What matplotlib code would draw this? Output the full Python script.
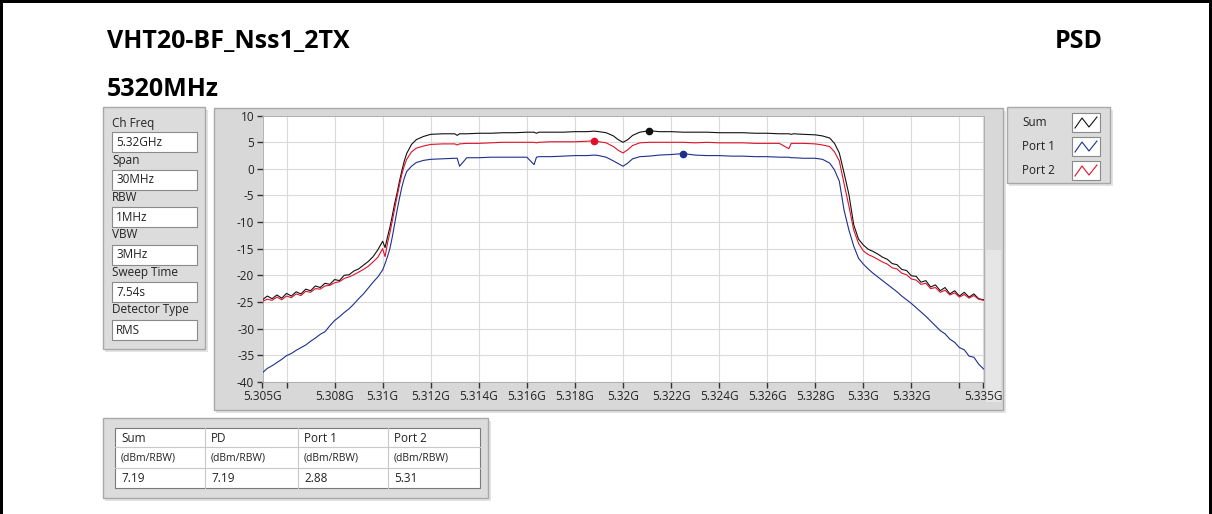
import numpy as np
import matplotlib.pyplot as plt
from matplotlib.patches import Rectangle
from matplotlib.lines import Line2D

plt.rcParams['font.family'] = ['Open Sans', 'DejaVu Sans']
plt.rcParams['axes.unicode_minus'] = False

W, H = 1212, 514

# sweep points (MHz)
freq_mhz = [
    5305.0, 5305.2, 5305.4, 5305.6, 5305.8, 5306.0, 5306.2, 5306.4, 5306.6, 5306.8,
    5307.0, 5307.2, 5307.4, 5307.6, 5307.8, 5308.0, 5308.2, 5308.4, 5308.6, 5308.8,
    5309.0, 5309.2, 5309.4, 5309.6, 5309.8,
    5310.0, 5310.1, 5310.2, 5310.3, 5310.4, 5310.5, 5310.6, 5310.7, 5310.8, 5310.9,
    5311.0, 5311.2, 5311.4, 5311.7, 5312.0,
    5312.5, 5313.0, 5313.1, 5313.2, 5313.5, 5314.0, 5314.5, 5315.0, 5315.5, 5316.0,
    5316.3, 5316.4, 5316.5, 5317.0, 5317.5, 5318.0, 5318.5, 5318.8, 5319.0, 5319.3,
    5319.6, 5319.8, 5320.0, 5320.2, 5320.4, 5320.7, 5321.1, 5321.5, 5322.0, 5322.5,
    5323.0, 5323.5, 5324.0, 5324.5, 5325.0, 5325.5, 5326.0, 5326.5, 5326.9, 5327.0,
    5327.1, 5327.5, 5328.0, 5328.3, 5328.6,
    5328.8, 5329.0, 5329.2, 5329.4, 5329.6, 5329.8, 5330.0, 5330.2,
    5330.4, 5330.6, 5330.8, 5331.0, 5331.2, 5331.4, 5331.6, 5331.8, 5332.0, 5332.2,
    5332.4, 5332.6, 5332.8, 5333.0, 5333.2, 5333.4, 5333.6, 5333.8, 5334.0, 5334.2,
    5334.4, 5334.6, 5334.8, 5335.0,
]

# dBm/RBW
sum_dbm = [
    -24.6, -23.9, -24.4, -23.7, -24.3, -23.4, -23.9, -23.1, -23.5, -22.6,
    -22.9, -22.0, -22.3, -21.5, -21.7, -20.8, -21.0, -20.0, -19.9, -19.2,
    -18.8, -18.1, -17.4, -16.5, -15.2,
    -13.6, -14.8, -12.8, -11.0, -8.8, -6.5, -4.5, -2.3, -0.3, 1.5,
    2.9, 4.6, 5.5, 6.1, 6.5,
    6.6, 6.6, 6.3, 6.6, 6.6, 6.7, 6.7, 6.8, 6.8, 6.9,
    6.9, 6.7, 6.9, 6.9, 6.9, 7.0, 7.0, 7.1, 7.0, 6.8,
    6.2, 5.5, 5.0, 5.5, 6.3, 6.9, 7.19, 7.0, 7.0, 6.9,
    6.9, 6.9, 6.8, 6.8, 6.8, 6.7, 6.7, 6.6, 6.6, 6.5,
    6.6, 6.5, 6.4, 6.2, 5.8,
    4.8, 3.0, -0.8, -4.8, -10.5, -13.2, -14.3, -15.1,
    -15.5, -16.0, -16.6, -17.0, -17.8, -18.0, -18.9, -19.1, -20.1, -20.2,
    -21.3, -21.0, -22.2, -21.8, -22.9, -22.3, -23.5, -22.9, -23.9, -23.2,
    -24.1, -23.5, -24.4, -24.6,
]

port1_dbm = [
    -38.3, -37.5, -37.0, -36.4, -35.8, -35.1, -34.7, -34.1, -33.6, -33.1,
    -32.4, -31.8, -31.1, -30.6, -29.5, -28.5, -27.8, -27.0, -26.3, -25.4,
    -24.4, -23.5, -22.4, -21.3, -20.3,
    -19.0, -17.8, -16.5, -15.0, -12.8, -10.3, -7.8, -5.5, -3.4, -1.7,
    -0.5, 0.5, 1.2, 1.6, 1.8,
    1.9, 2.0, 2.0, 0.5, 2.1, 2.1, 2.2, 2.2, 2.2, 2.2,
    0.8, 2.2, 2.3, 2.3, 2.4, 2.5, 2.5, 2.6, 2.5, 2.2,
    1.5, 1.0, 0.5, 1.1, 1.9, 2.3, 2.4, 2.6, 2.7, 2.88,
    2.6, 2.5, 2.5, 2.4, 2.4, 2.3, 2.3, 2.2, 2.2, 2.1,
    2.1, 2.0, 2.0, 1.8, 1.1,
    -0.2, -2.3, -7.8, -11.5, -14.5, -16.8, -17.9, -18.8,
    -19.6, -20.3, -21.0, -21.7, -22.4, -23.1, -23.9, -24.6, -25.3, -26.1,
    -26.9, -27.7, -28.6, -29.5, -30.4, -31.0, -32.0, -32.6, -33.6, -34.0,
    -35.2, -35.4, -36.7, -37.6,
]

port2_dbm = [
    -24.9, -24.5, -24.7, -24.1, -24.6, -23.9, -24.2, -23.5, -23.8, -23.0,
    -23.2, -22.5, -22.6, -22.0, -21.9, -21.4, -21.2, -20.6, -20.3, -19.9,
    -19.4, -18.9, -18.3, -17.5, -16.6,
    -15.0, -16.5, -14.0, -12.0, -9.8, -7.5, -5.2, -3.0, -1.0, 0.6,
    1.8, 3.2, 3.9, 4.3, 4.6,
    4.7, 4.7, 4.5, 4.7, 4.8, 4.8, 4.9, 5.0, 5.0, 5.0,
    5.0, 4.9, 5.0, 5.1, 5.1, 5.1, 5.2, 5.31, 5.1, 4.9,
    4.2, 3.5, 3.0, 3.6, 4.4, 4.9, 5.0, 5.0, 5.0, 5.0,
    4.9, 5.0, 4.9, 4.9, 4.9, 4.8, 4.8, 4.8, 3.8, 4.8,
    4.8, 4.8, 4.7, 4.5, 4.2,
    3.2, 1.5, -2.8, -7.0, -11.5, -14.0, -15.4, -16.1,
    -16.5, -17.0, -17.5, -17.9, -18.6, -18.8, -19.6, -19.9, -20.7, -20.9,
    -21.7, -21.5, -22.5, -22.3, -23.2, -22.8, -23.7, -23.3, -24.1, -23.6,
    -24.3, -23.8, -24.5, -24.7,
]

setting_names = ["Ch Freq", "Span", "RBW", "VBW", "Sweep Time", "Detector Type"]
setting_values = ["5.32GHz", "30MHz", "1MHz", "3MHz", "7.54s", "RMS"]
legend_names = ["Sum", "Port 1", "Port 2"]
table_headers = ["Sum", "PD", "Port 1", "Port 2"]
table_unit = "(dBm/RBW)"

c_sum, c_p1, c_p2 = "#111111", "#1c2f8f", "#e0102a"


def fx(x):
    return x / W


def fy(y):
    return 1 - y / H


def box(fig, x0, y0, x1, y1, fc, ec, lw=1.0, z=-2):
    r = Rectangle((fx(x0), fy(y1)), (x1 - x0) / W, (y1 - y0) / H,
                  transform=fig.transFigure, facecolor=fc, edgecolor=ec,
                  linewidth=lw, zorder=z)
    fig.add_artist(r)
    return r


def hline(fig, x0, x1, y, color, lw=0.8, z=1):
    fig.add_artist(Line2D([fx(x0), fx(x1)], [fy(y), fy(y)], transform=fig.transFigure,
                          color=color, linewidth=lw, zorder=z))


def vline(fig, x, y0, y1, color, lw=0.8, z=1):
    fig.add_artist(Line2D([fx(x), fx(x)], [fy(y0), fy(y1)], transform=fig.transFigure,
                          color=color, linewidth=lw, zorder=z))


fig = plt.figure(figsize=(W / 100, H / 100), dpi=100)
fig.patch.set_facecolor("white")

# page frame
box(fig, 0, 0, 3, H, "black", "none", 0)
box(fig, 1209, 0, W, H, "black", "none", 0)
box(fig, 0, 0, W, 3, "black", "none", 0)

# titles
fig.text(fx(107), fy(42), "VHT20-BF_Nss1_2TX", fontsize=18, fontweight="bold", va="center")
fig.text(fx(1103), fy(42), "PSD", fontsize=18, fontweight="bold", va="center", ha="right")
fig.text(fx(107), fy(89), "5320MHz", fontsize=18, fontweight="bold", va="center")

# graph panel
shadow = "#e3e3e3"
box(fig, 216, 111, 1006, 413, shadow, "none", 0, z=-3)
box(fig, 214, 108, 1003, 410, "#d8d8d8", "#a8a8a8", 1.0)
box(fig, 986, 250, 1001, 402, "#e6e6e6", "none", 0, z=-1)

ax = fig.add_axes([fx(262.5), fy(381.7), (983.5 - 262.5) / W, (381.7 - 115.7) / H])
ax.set_facecolor("white")
f = np.array(freq_mhz)
series = [(sum_dbm, c_sum), (port2_dbm, c_p2), (port1_dbm, c_p1)]
for vals, col in series:
    v = np.array(vals)
    ax.plot(f, v, color=col, linewidth=0.8, zorder=3)
    k = int(np.argmax(v))
    ax.plot(f[k], v[k], "o", color=col, markersize=4.5, zorder=4)

ax.set_xlim(5305, 5335)
ax.set_ylim(-40, 10)
xt = [5305] + list(range(5306, 5335, 2)) + [5335]
xl = ["" if t in (5306, 5334) else "%gG" % (t / 1000) for t in xt]
ax.set_xticks(xt)
ax.set_xticklabels(xl)
ax.set_yticks(range(-40, 11, 5))
ax.tick_params(direction="out", length=4, width=1, color="#333333",
               labelsize=8.5, labelcolor="#222222", pad=2)
ax.grid(True, color="#dadada", linewidth=0.8, zorder=0)
for s in ax.spines.values():
    s.set_color("#a8a8a8")
    s.set_linewidth(0.6)

# settings panel
box(fig, 105, 110, 208, 352, shadow, "none", 0, z=-3)
box(fig, 103, 107, 205, 349, "#dcdcdc", "#a8a8a8", 1.0)
for i, (name, val) in enumerate(zip(setting_names, setting_values)):
    ly = 123 + i * 37.3
    by = 132 + i * 37.6
    fig.text(fx(112), fy(ly), name, fontsize=8.5, va="center", color="#222222")
    box(fig, 112, by, 197, by + 20, "white", "#8a8a8a", 0.8, z=1)
    fig.text(fx(116), fy(by + 10), val, fontsize=8.5, va="center", color="#222222")

# legend panel
box(fig, 1009, 110, 1113, 186, shadow, "none", 0, z=-3)
box(fig, 1007, 107, 1110, 183, "#dcdcdc", "#a8a8a8", 1.0)
for i, (name, col) in enumerate(zip(legend_names, [c_sum, c_p1, c_p2])):
    top = 113 + i * 24
    fig.text(fx(1022), fy(top + 9.5), name, fontsize=8.5, va="center", color="#222222")
    box(fig, 1072, top, 1100, top + 19, "white", "#8a8a8a", 0.8, z=1)
    zx = [1075, 1082, 1089, 1097]
    zy = [top + 15, top + 5, top + 14, top + 4]
    fig.add_artist(Line2D([fx(x) for x in zx], [fy(y) for y in zy],
                          transform=fig.transFigure, color=col, linewidth=0.8, zorder=2))

# peak table
peaks = [max(sum_dbm), max(sum_dbm), max(port1_dbm), max(port2_dbm)]
box(fig, 105, 421, 491, 501, shadow, "none", 0, z=-3)
box(fig, 103, 418, 488, 498, "#dcdcdc", "#a8a8a8", 1.0)
box(fig, 115, 428, 480, 488, "white", "#7a7a7a", 0.8, z=1)
hline(fig, 115, 480, 447, "#c8c8c8")
hline(fig, 115, 480, 468, "#c8c8c8")
cols = [115, 205, 298, 388]
for c in cols[1:]:
    vline(fig, c, 428, 488, "#c8c8c8")
for c, head, val in zip(cols, table_headers, peaks):
    fig.text(fx(c + 6), fy(438), head, fontsize=8.5, va="center", color="#222222")
    fig.text(fx(c + 6), fy(458), table_unit, fontsize=7.5, va="center", color="#222222")
    fig.text(fx(c + 6), fy(478), "%.2f" % val, fontsize=8.5, va="center", color="#222222")

fig.savefig("out.png", dpi=100)
